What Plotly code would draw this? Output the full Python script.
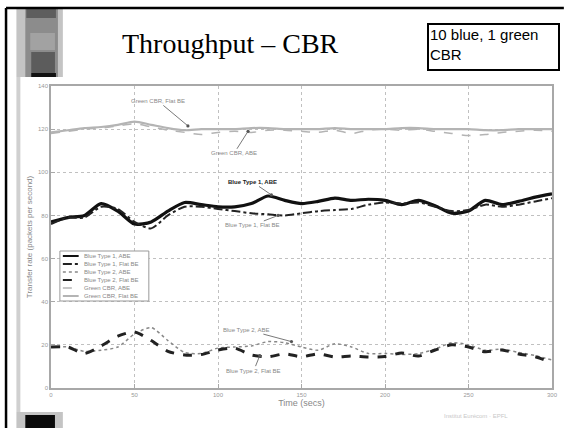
import plotly.graph_objects as go

time = [0, 10, 20, 30, 40, 50, 60, 70, 80, 90, 100, 110, 120, 130, 140, 150,
        160, 170, 180, 190, 200, 210, 220, 230, 240, 250, 260, 270, 280, 290, 300]

blue1_abe = [77, 79, 80, 85.5, 82, 76, 77, 82, 86, 85, 84, 84, 85.5, 89, 87, 85.5,
             86.5, 88, 87, 87.5, 87, 85, 87, 84.5, 81, 82, 87, 85, 86.5, 88.5, 90]
blue1_flat = [76, 79, 79, 84, 83, 77, 74, 80, 84, 84, 83, 82, 81, 80.5, 80, 81,
              82, 82.5, 83, 85, 86, 85.5, 86, 84, 82, 82.5, 85, 84, 85, 86.5, 88]
blue2_abe = [19, 19, 17, 17.5, 19, 25, 28, 22, 16.5, 16, 18.5, 19, 19.5, 21.5, 21, 19,
             17.5, 20.5, 19, 16, 16, 15.5, 16, 18, 21, 20, 17.5, 18, 16.5, 15, 13]
blue2_flat = [19, 19, 16, 19.5, 24, 26, 22, 17, 15.3, 15.5, 17.6, 18.5, 15.3, 14.5, 15.8, 14.5,
              15.8, 14.4, 14.8, 14.4, 14.6, 16.2, 14.8, 17.6, 20, 19, 16.8, 17.6, 15.8, 14.5, 11.7]
green_abe = [118, 119, 120, 120.5, 121.5, 122.5, 121, 119.5, 118.5, 117.5, 118.5, 119, 118.5, 119.5, 119.5, 119,
             118.5, 119.5, 118, 119.5, 120, 119.5, 120, 119, 118, 117, 117.5, 118.5, 119, 119.5, 119]
green_flat = [118.5, 119.5, 120.5, 121, 122, 123.5, 122, 120.5, 119.5, 120, 120, 120, 120.5, 120.5, 120, 120,
              120, 120.5, 120, 120, 120, 120.5, 120.5, 120, 120, 120, 119.5, 119.5, 120, 120, 120]

names = ["Blue Type 1, ABE", "Blue Type 1, Flat BE", "Blue Type 2, ABE",
         "Blue Type 2, Flat BE", "Green CBR, ABE", "Green CBR, Flat BE"]
x_ticks = [0, 50, 100, 150, 200, 250, 300]
y_ticks = [0, 20, 40, 60, 80, 100, 120, 140]

W, H = 564, 428
def px(x):
    return (x - 51) / (558 - 51)
def py(y):
    return (388 - y) / (388 - 86)

fig = go.Figure()
styles = [
    dict(color="#111111", width=3.2, dash="solid"),
    dict(color="#222222", width=2, dash="dashdot"),
    dict(color="#888888", width=1.5, dash="dot"),
    dict(color="#222222", width=3, dash="dash"),
    dict(color="#b4b4b4", width=1.5, dash="dash"),
    dict(color="#b4b4b4", width=2.2, dash="solid"),
]
series = [blue1_abe, blue1_flat, blue2_abe, blue2_flat, green_abe, green_flat]
for vals, ln, nm in zip(series, styles, names):
    fig.add_trace(go.Scatter(x=time, y=vals, mode="lines", name=nm, line=ln,
                             line_shape="spline", line_smoothing=0.7, showlegend=False))

arrows = [
    ("Green CBR, Flat BE", 82, 121.5, -30, -25, False),
    ("Green CBR, ABE", 118, 119, -14, 22, False),
    ("<b>Blue Type 1, ABE</b>", 132, 89.5, -19, -13, True),
    ("Blue Type 1, Flat BE", 136, 80, -26, 10, False),
    ("Blue Type 2, ABE", 144, 21.5, -45, -12, False),
    ("Blue Type 2, Flat BE", 125, 15, -6, 15, False),
]
for txt, x, y, ax, ay, bold in arrows:
    fig.add_annotation(x=x, y=y, xref="x", yref="y", text=txt, showarrow=True,
                       ax=ax, ay=ay, arrowhead=6, arrowsize=1, arrowwidth=0.8,
                       arrowcolor="#555555",
                       font=dict(family="Arial", size=6,
                                 color="#222222" if bold else "#888888"))

deco = [
    (16, 8, 63, 77, "#c4c4c4"),
    (25, 8, 58, 77, "#8c8c8c"),
    (26, 8, 56, 18, "#5e5e5e"),
    (30, 33, 55, 50, "#a2a2a2"),
    (31, 52, 55, 73, "#5c5c5c"),
    (31, 73, 56, 77, "#111111"),
    (16, 77, 20, 412, "#d0d0d0"),
    (16, 412, 63, 428, "#c4c4c4"),
    (25, 415, 55, 428, "#0a0a0a"),
]
shp = []
for x0, y0, x1, y1, c in deco:
    shp.append(dict(type="rect", xref="paper", yref="paper", layer="below",
                    x0=px(x0), x1=px(x1), y0=py(y1), y1=py(y0),
                    fillcolor=c, line=dict(width=0)))
shp.append(dict(type="line", xref="paper", yref="paper", x0=px(5.5), x1=px(570),
                y0=py(8), y1=py(8), line=dict(color="black", width=2.5)))
shp.append(dict(type="line", xref="paper", yref="paper", x0=px(5.5), x1=px(5.5),
                y0=py(8), y1=py(440), line=dict(color="black", width=2.5)))

# compact legend box like the original
lx0, lx1, ly0, ly1 = 60, 150, 251, 301
shp.append(dict(type="rect", xref="paper", yref="paper", x0=px(lx0), x1=px(lx1),
                y0=py(ly1), y1=py(ly0), fillcolor="white",
                line=dict(color="#999999", width=1)))
for i, (nm, ln) in enumerate(zip(names, styles)):
    yy = ly0 + 5 + i * 8
    lw = min(ln["width"], 2)
    shp.append(dict(type="line", xref="paper", yref="paper", x0=px(63), x1=px(79),
                    y0=py(yy), y1=py(yy),
                    line=dict(color=ln["color"], width=lw, dash=ln["dash"])))
    fig.add_annotation(xref="paper", yref="paper", x=px(82), y=py(yy), text=nm,
                       showarrow=False, xanchor="left", yanchor="middle",
                       font=dict(family="Arial", size=6, color="#888888"))
fig.update_layout(shapes=shp)

fig.add_annotation(xref="paper", yref="paper", x=px(233), y=py(44), text="Throughput – CBR",
                   showarrow=False, font=dict(family="Liberation Serif", size=28, color="black"),
                   xanchor="center", yanchor="middle")
fig.add_annotation(xref="paper", yref="paper", x=px(432), y=py(23), text="10 blue, 1 green<br>CBR",
                   showarrow=False, align="left", xanchor="left", yanchor="top",
                   font=dict(family="Liberation Sans", size=15, color="black"),
                   bordercolor="black", borderwidth=2, borderpad=1, width=127, height=42,
                   valign="top")
fig.add_annotation(xref="paper", yref="paper", x=px(515), y=py(421),
                   text="Institut Eurécom · EPFL", showarrow=False,
                   font=dict(family="Arial", size=6, color="#c8c8c8"))

axis_common = dict(showline=True, linecolor="#a8a8a8", linewidth=1.5, mirror=True,
                   showgrid=True, gridcolor="#c0c0c0", griddash="dot", gridwidth=1,
                   ticks="inside", tickcolor="#a8a8a8", ticklen=4, zeroline=False,
                   tickfont=dict(family="Arial", size=6, color="#999999"))
fig.update_xaxes(range=[0, 300], tickvals=x_ticks, **axis_common,
                 title=dict(text="Time (secs)", font=dict(family="Arial", size=9, color="#888888"),
                            standoff=2))
fig.update_yaxes(range=[0, 140], tickvals=y_ticks, **axis_common,
                 title=dict(text="Transfer rate (packets per second)",
                            font=dict(family="Arial", size=8, color="#888888"), standoff=4))

fig.update_layout(
    width=W, height=H,
    margin=dict(l=51, r=6, t=86, b=40),
    paper_bgcolor="white", plot_bgcolor="white",
    showlegend=False,
)
fig.write_html("out.html")
